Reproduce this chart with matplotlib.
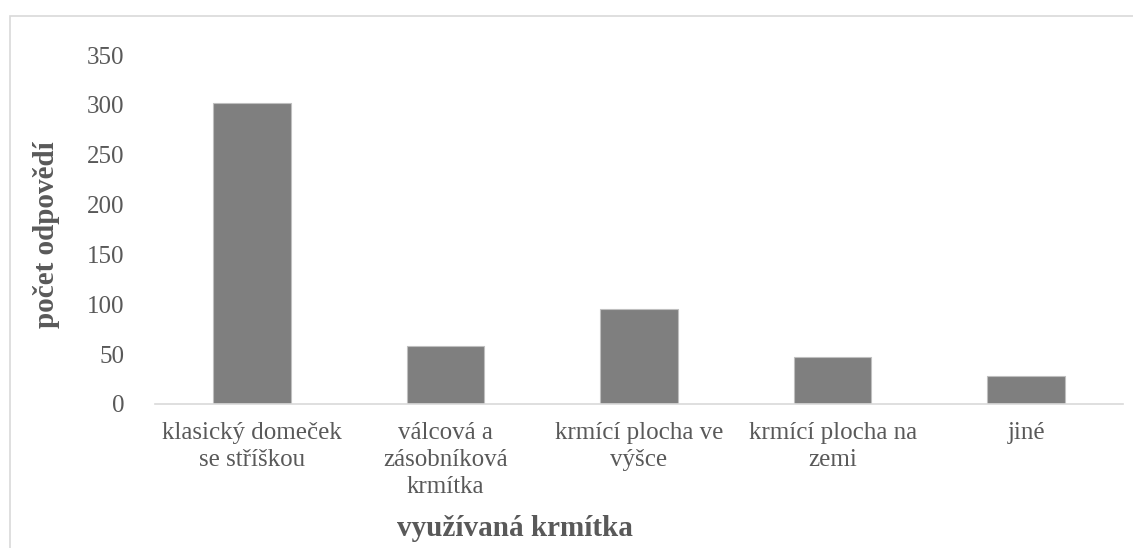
import matplotlib.pyplot as plt
from matplotlib.patches import Rectangle

kategorie = ["klasický domeček\nse stříškou", "válcová a\nzásobníková\nkrmítka",
             "krmící plocha ve\nvýšce", "krmící plocha na\nzemi", "jiné"]
pocty = [302, 58, 95, 47, 28]

plt.rcParams['font.family'] = ['Liberation Serif', 'DejaVu Serif']
seda_text = '#595959'

fig = plt.figure(figsize=(11.33, 5.48), dpi=100)
ax = fig.add_axes([155 / 1133, 1 - 404 / 548, 968 / 1133, 349 / 548])

x = range(len(kategorie))
ax.bar(x, pocty, width=0.4, color='#7f7f7f', edgecolor='#bfbfbf', linewidth=0.8)

ax.set_xlim(-0.5, len(kategorie) - 0.5)
ax.set_ylim(0, 350)
ax.set_yticks(range(0, 351, 50))
ax.set_xticks(list(x))
ax.set_xticklabels(kategorie, linespacing=1.3)
ax.tick_params(axis='both', length=0, labelsize=18, colors=seda_text)
ax.tick_params(axis='x', pad=13)
ax.tick_params(axis='y', pad=22)

for s in ['top', 'right', 'left']:
    ax.spines[s].set_visible(False)
ax.spines['bottom'].set_color('#d9d9d9')
ax.spines['bottom'].set_linewidth(1.2)

fig.text(46 / 1133, 1 - 235 / 548, "počet odpovědí", rotation=90, ha='center', va='center',
         fontsize=21, fontweight='bold', color=seda_text)
fig.text(515 / 1133, 1 - 529 / 548, "využívaná krmítka", ha='center', va='center',
         fontsize=21, fontweight='bold', color=seda_text)

fig.patches.append(Rectangle((10 / 1133, -0.1), 1.2, 1 - 16 / 548 + 0.1,
                             transform=fig.transFigure, fill=False,
                             edgecolor='#d9d9d9', linewidth=1.2))

fig.savefig('out.png', dpi=100)
